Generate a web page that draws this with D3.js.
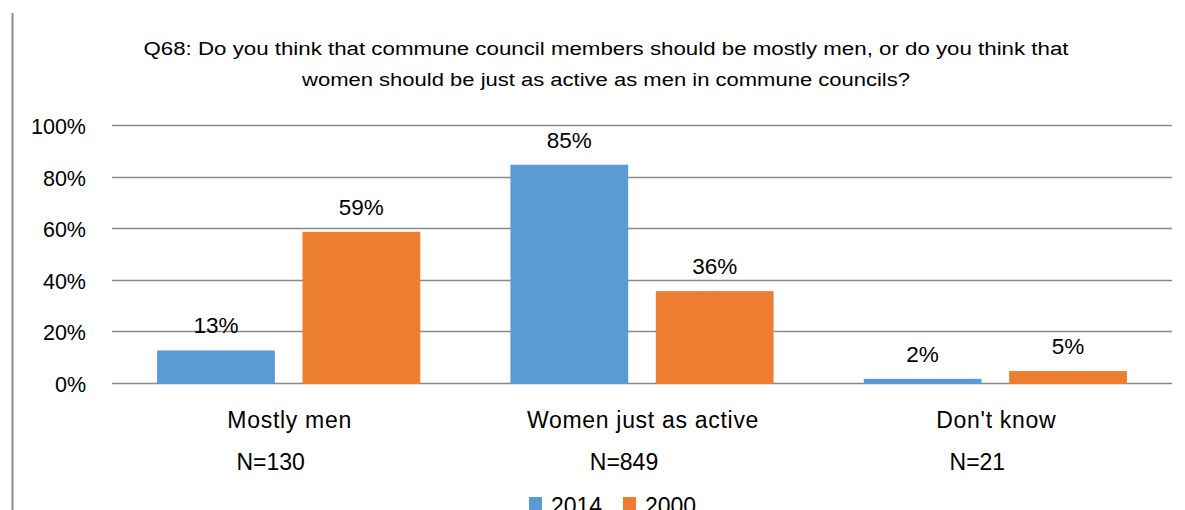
<!DOCTYPE html>
<html><head><meta charset="utf-8">
<script src="https://cdn.jsdelivr.net/npm/d3@7"></script>
<style>
html,body{margin:0;padding:0;background:#fff;overflow:hidden}
text{font-family:"Liberation Sans",Arial,sans-serif;fill:#000}
</style></head><body>
<svg id="c" width="1185" height="510"></svg>
<script>
const categories = ["Mostly men", "Women just as active", "Don't know"];
const nLabels = ["N=130", "N=849", "N=21"];
const seriesNames = ["2014", "2000"];
const values2014 = [13, 85, 2];
const values2000 = [59, 36, 5];
const yTicks = [0, 20, 40, 60, 80, 100];
const titleLines = [
  "Q68: Do you think that commune council members should be mostly men, or do you think that",
  "women should be just as active as men in commune councils?"
];
const colors = ["#5B9BD5", "#ED7D31"];

(function () {
const svg = d3.select("#c");
const mLeft = 112, mRight = 1172, mTop = 126, mBottom = 384;

svg.append("line").attr("x1", 12.5).attr("x2", 12.5).attr("y1", 13).attr("y2", 510)
  .attr("stroke", "#8a8a8a").attr("stroke-width", 2);

const titleY = [55, 86], titleW = [925, 608];
titleLines.forEach((t, i) => {
  svg.append("text").attr("x", 606).attr("y", titleY[i]).attr("text-anchor", "middle")
    .attr("font-size", 18).attr("textLength", titleW[i]).attr("lengthAdjust", "spacingAndGlyphs").text(t);
});

const x0 = d3.scaleBand().domain(categories).range([mLeft, mRight]).paddingInner(0).paddingOuter(0);
const x1 = d3.scaleBand().domain(seriesNames).range([0, x0.bandwidth()]).paddingInner(0.19).paddingOuter(0.31);
const y = d3.scaleLinear().domain([0, 100]).range([mBottom, mTop]);

svg.append("g").selectAll("line").data(yTicks).join("line")
  .attr("x1", mLeft).attr("x2", mRight)
  .attr("y1", d => Math.round(y(d)) - 0.5).attr("y2", d => Math.round(y(d)) - 0.5)
  .attr("stroke", "#898989").attr("stroke-width", 1.5);

svg.append("g").selectAll("text").data(yTicks).join("text")
  .attr("x", 86).attr("y", d => y(d) + 8).attr("text-anchor", "end")
  .attr("font-size", 21.5).text(d => d + "%");

const data = categories.map((c, i) => ({c, vals: [values2014[i], values2000[i]]}));
const g = svg.append("g").selectAll("g").data(data).join("g")
  .attr("transform", d => `translate(${x0(d.c)},0)`);
g.selectAll("rect").data(d => d.vals.map((v, j) => ({v, s: seriesNames[j], j}))).join("rect")
  .attr("x", d => x1(d.s)).attr("width", x1.bandwidth())
  .attr("y", d => y(d.v)).attr("height", d => y(0) - y(d.v))
  .attr("fill", d => colors[d.j]);
g.selectAll("text.v").data(d => d.vals.map((v, j) => ({v, s: seriesNames[j], j}))).join("text")
  .attr("class", "v").attr("x", d => x1(d.s) + x1.bandwidth() / 2).attr("y", d => y(d.v) - 17)
  .attr("text-anchor", "middle").attr("font-size", 22.5).text(d => d.v + "%");

svg.append("g").selectAll("text").data(categories).join("text")
  .attr("x", d => x0(d) + x0.bandwidth() / 2 + 1).attr("y", 428).attr("text-anchor", "middle")
  .attr("font-size", 23).attr("letter-spacing", 0.7).text(d => d);
svg.append("g").selectAll("text").data(nLabels).join("text")
  .attr("x", (d, i) => x0(categories[i]) + x0.bandwidth() / 2 - 18).attr("y", 470).attr("text-anchor", "middle")
  .attr("font-size", 23).text(d => d);

const lg = svg.append("g");
const legX = [529, 623];
seriesNames.forEach((s, i) => {
  lg.append("rect").attr("x", legX[i]).attr("y", 497).attr("width", 13).attr("height", 13).attr("fill", colors[i]);
  lg.append("text").attr("x", legX[i] + 22).attr("y", 514).attr("font-size", 23).text(s);
});
})();
</script></body></html>
